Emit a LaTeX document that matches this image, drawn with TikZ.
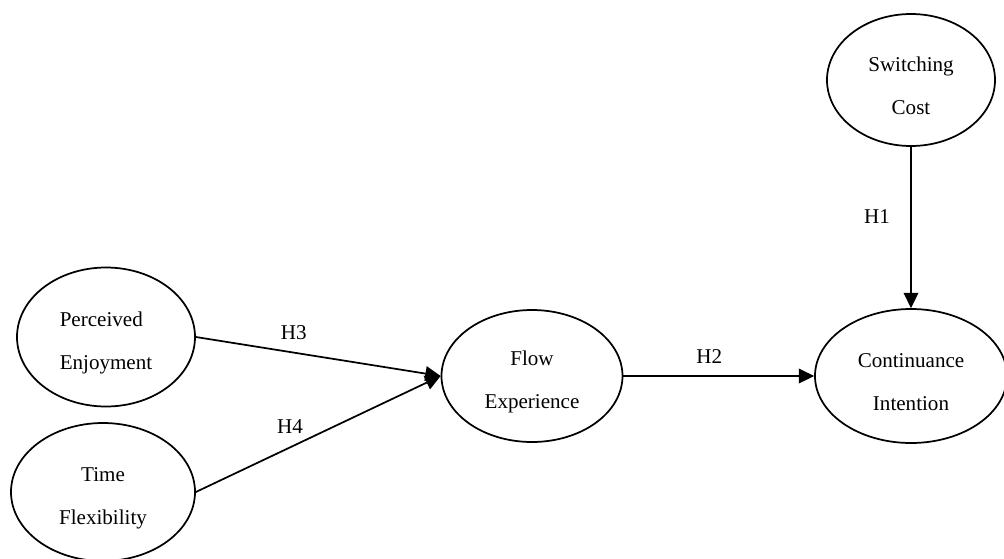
\documentclass[tikz,border=0pt]{standalone}
\usepackage{fontspec}
\setmainfont{Liberation Serif}
\usetikzlibrary{arrows.meta,shapes.geometric}
\newcommand{\twolines}[2]{\rule{0pt}{20pt}#1\\#2}
\tikzset{
    construct/.style={
        draw, ellipse, line width=1.3pt, inner sep=0pt,
        align=center,
        font=\fontsize{15.8}{32}\selectfont
    },
    path arrow/.style={
        line width=1.3pt,
        -{Triangle[length=11.5pt,width=11pt]}
    },
    hyp/.style={
        font=\fontsize{15.8}{18}\selectfont
    }
}

\begin{document}
\begin{tikzpicture}[x=0.75pt,y=-0.75pt]
\useasboundingbox (0,0) rectangle (1004,558);
\node[construct, minimum width=168*0.75pt, minimum height=132*0.75pt] (sc) at (911,80) {\twolines{Switching}{Cost}};
\node[construct, minimum width=192*0.75pt, minimum height=134*0.75pt] (ci) at (911,376) {\twolines{Continuance}{Intention}};
\node[construct, minimum width=181*0.75pt, minimum height=132*0.75pt] (fe) at (532,376) {\twolines{Flow}{Experience}};
\node[construct, align=left, minimum width=178*0.75pt, minimum height=139*0.75pt] (pe) at (106,337) {\twolines{Perceived}{Enjoyment}};
\node[construct, minimum width=184*0.75pt, minimum height=138*0.75pt] (tf) at (103,492) {\twolines{Time}{Flexibility}};
% hypotheses
\draw[path arrow] (sc.south) -- node[hyp, pos=0.43, xshift=-25.5pt] (h1) {H1} (ci.north);
\draw[path arrow] (fe.east) -- node[hyp, pos=0.45, yshift=14.3pt] (h2) {H2} (ci.west);
\draw[path arrow] (pe.east) -- node[hyp, pos=0.4, yshift=14.7pt] (h3) {H3} (fe.west);
\draw[path arrow] (tf.east) -- node[hyp, pos=0.385, yshift=15.8pt] (h4) {H4} (fe.west);
\end{tikzpicture}
\end{document}
